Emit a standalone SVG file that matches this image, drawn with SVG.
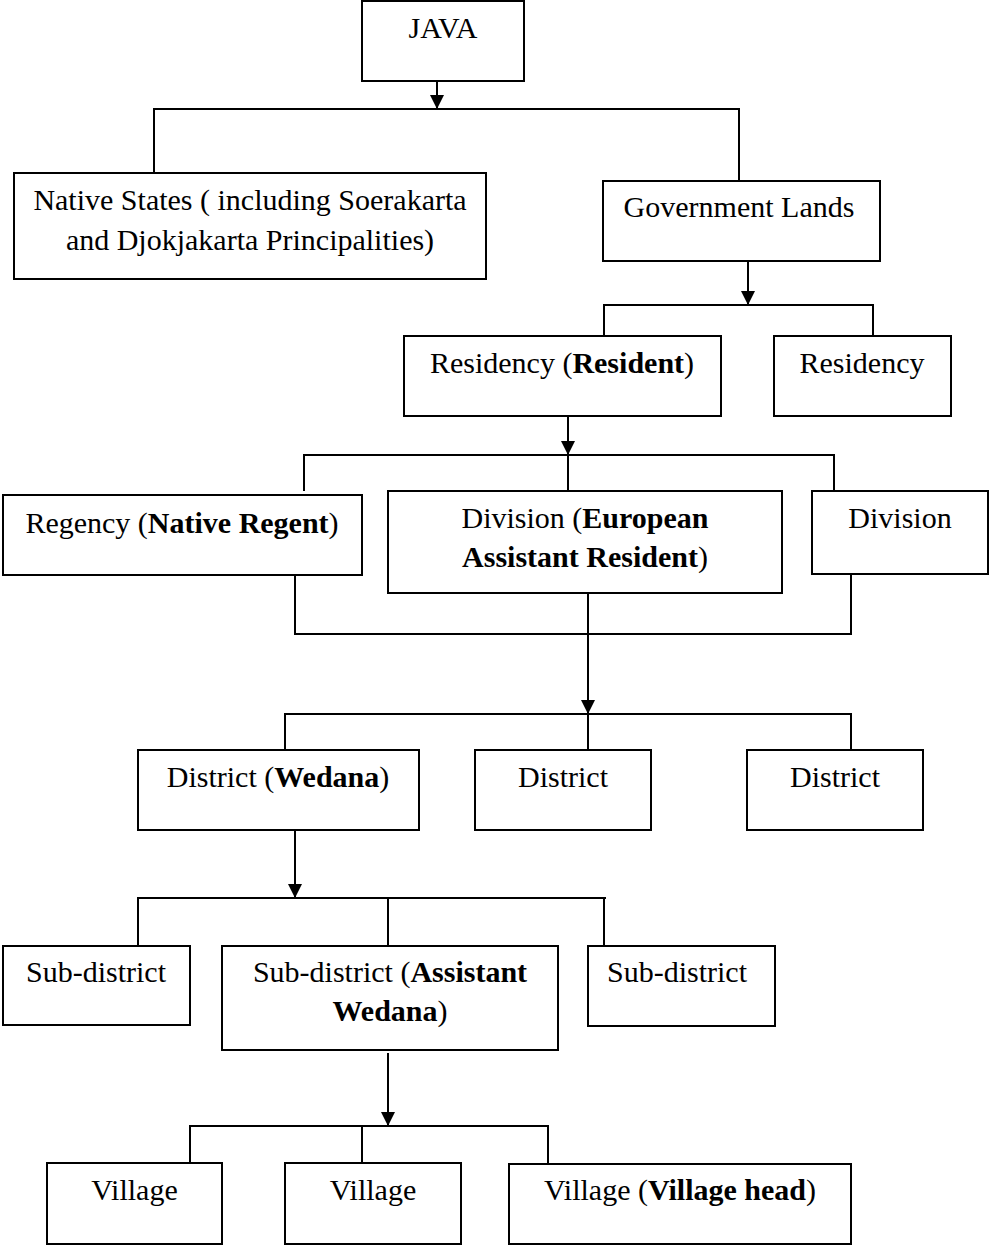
<svg xmlns="http://www.w3.org/2000/svg" width="989" height="1247" viewBox="0 0 989 1247">
<style>
.box{fill:#fff;stroke:#000;stroke-width:2}
.ln{fill:none;stroke:#000;stroke-width:2}
.t{font-family:"Liberation Serif","Times New Roman",serif;font-size:30px;fill:#000;text-anchor:middle}
.b{font-weight:bold}
</style>
<defs>
<marker id="arr" viewBox="0 0 14 14" refX="14" refY="7" markerWidth="14" markerHeight="14" markerUnits="userSpaceOnUse" orient="auto">
<path d="M0,0 L14,7 L0,14 z" fill="#000"/>
</marker>
</defs>
<rect width="989" height="1247" fill="#fff"/>
<g id="connectors">
<line class="ln" x1="437" y1="81" x2="437" y2="109" marker-end="url(#arr)"/>
<polyline class="ln" points="154,173 154,109 739,109 739,181"/>
<line class="ln" x1="748" y1="261" x2="748" y2="305" marker-end="url(#arr)"/>
<polyline class="ln" points="604,336 604,305 873,305 873,336"/>
<line class="ln" x1="568" y1="416" x2="568" y2="455" marker-end="url(#arr)"/>
<polyline class="ln" points="304,491 304,455 834,455 834,491"/>
<line class="ln" x1="568" y1="455" x2="568" y2="491"/>
<polyline class="ln" points="295,575 295,634 851,634 851,574"/>
<line class="ln" x1="588" y1="593" x2="588" y2="714" marker-end="url(#arr)"/>
<polyline class="ln" points="285,750 285,714 851,714 851,750"/>
<line class="ln" x1="588" y1="714" x2="588" y2="750"/>
<line class="ln" x1="295" y1="830" x2="295" y2="898" marker-end="url(#arr)"/>
<polyline class="ln" points="138,946 138,898 606,898"/>
<line class="ln" x1="388" y1="898" x2="388" y2="946"/>
<line class="ln" x1="604" y1="898" x2="604" y2="946"/>
<line class="ln" x1="388" y1="1053" x2="388" y2="1126" marker-end="url(#arr)"/>
<polyline class="ln" points="190,1163 190,1126 548,1126 548,1164"/>
<line class="ln" x1="362" y1="1126" x2="362" y2="1163"/>
</g>
<g id="java"><rect class="box" x="362" y="1" width="162" height="80"/><text class="t" x="443" y="38">JAVA</text></g>
<g id="native-states"><rect class="box" x="14" y="173" width="472" height="106"/><text class="t" x="250" y="210">Native States ( including Soerakarta</text><text class="t" x="250" y="250">and Djokjakarta Principalities)</text></g>
<g id="government-lands"><rect class="box" x="603" y="181" width="277" height="80"/><text class="t" x="739" y="217">Government Lands</text></g>
<g id="residency-resident"><rect class="box" x="404" y="336" width="317" height="80"/><text class="t" x="562" y="373">Residency (<tspan class="b">Resident</tspan>)</text></g>
<g id="residency"><rect class="box" x="774" y="336" width="177" height="80"/><text class="t" x="862" y="373">Residency</text></g>
<g id="regency"><rect class="box" x="3" y="495" width="359" height="80"/><text class="t" x="182" y="533">Regency (<tspan class="b">Native Regent</tspan>)</text></g>
<g id="division-ear"><rect class="box" x="388" y="491" width="394" height="102"/><text class="t" x="585" y="528">Division (<tspan class="b">European</tspan></text><text class="t" x="585" y="567"><tspan class="b">Assistant Resident</tspan>)</text></g>
<g id="division"><rect class="box" x="812" y="491" width="176" height="83"/><text class="t" x="900" y="528">Division</text></g>
<g id="district-wedana"><rect class="box" x="138" y="750" width="281" height="80"/><text class="t" x="278" y="787">District (<tspan class="b">Wedana</tspan>)</text></g>
<g id="district-2"><rect class="box" x="475" y="750" width="176" height="80"/><text class="t" x="563" y="787">District</text></g>
<g id="district-3"><rect class="box" x="747" y="750" width="176" height="80"/><text class="t" x="835" y="787">District</text></g>
<g id="subdistrict-1"><rect class="box" x="3" y="946" width="187" height="79"/><text class="t" x="96" y="982">Sub-district</text></g>
<g id="subdistrict-aw"><rect class="box" x="222" y="946" width="336" height="104"/><text class="t" x="390" y="982">Sub-district (<tspan class="b">Assistant</tspan></text><text class="t" x="390" y="1021"><tspan class="b">Wedana</tspan>)</text></g>
<g id="subdistrict-3"><rect class="box" x="588" y="946" width="187" height="80"/><text class="t" x="677" y="982">Sub-district</text></g>
<g id="village-1"><rect class="box" x="47" y="1163" width="175" height="81"/><text class="t" x="134.5" y="1200">Village</text></g>
<g id="village-2"><rect class="box" x="285" y="1163" width="176" height="81"/><text class="t" x="373" y="1200">Village</text></g>
<g id="village-head"><rect class="box" x="509" y="1164" width="342" height="80"/><text class="t" x="680" y="1200">Village (<tspan class="b">Village head</tspan>)</text></g>
</svg>
